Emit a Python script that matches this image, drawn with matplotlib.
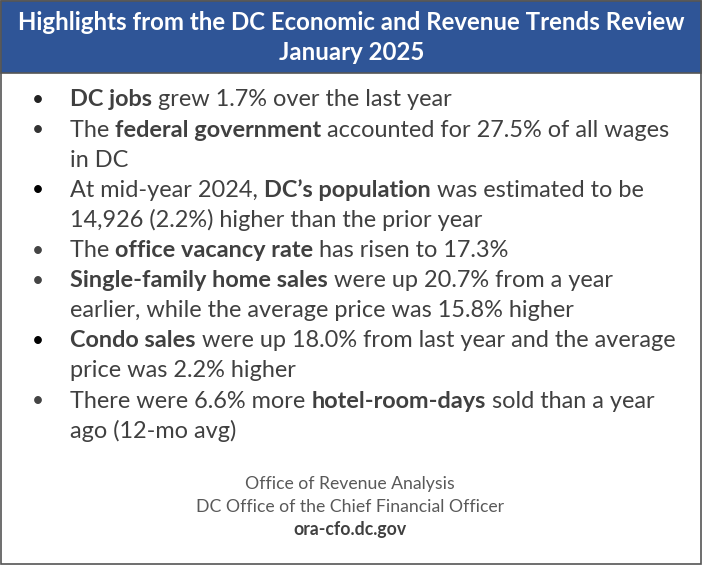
import matplotlib.pyplot as plt
from matplotlib.patches import Rectangle

title_lines = ["Highlights from the DC Economic and Revenue Trends Review", "January 2025"]

# each bullet: list of lines, each line a list of (text, bold) pieces
bullets = [
    [[("DC jobs", True), (" grew 1.7% over the last year", False)]],
    [[("The ", False), ("federal government", True), (" accounted for 27.5% of all wages", False)],
     [("in DC", False)]],
    [[("At mid-year 2024, ", False), ("DC\u2019s population", True), (" was estimated to be", False)],
     [("14,926 (2.2%) higher than the prior year", False)]],
    [[("The ", False), ("office vacancy rate", True), (" has risen to 17.3%", False)]],
    [[("Single-family home sales", True), (" were up 20.7% from a year", False)],
     [("earlier, while the average price was 15.8% higher", False)]],
    [[("Condo sales", True), (" were up 18.0% from last year and the average", False)],
     [("price was 2.2% higher", False)]],
    [[("There were 6.6% more ", False), ("hotel-room-days", True), (" sold than a year", False)],
     [("ago (12-mo avg)", False)]],
]
bullet_colors = ["#222222", "#333333", "#000000", "#444444", "#444444", "#000000", "#444444"]

footer = ["Office of Revenue Analysis", "DC Office of the Chief Financial Officer", "ora-cfo.dc.gov"]

W, H = 703, 566
fig = plt.figure(figsize=(7.03, 5.66), dpi=100)
ax = fig.add_axes([0, 0, 1, 1])
ax.set_xlim(0, W)
ax.set_ylim(H, 0)
ax.axis("off")

font = "Lato"
text_color = "#404040"
fs = 16.9

ax.add_patch(Rectangle((1, 1), W - 3, H - 3, facecolor="white", edgecolor="#555555", lw=1.2))
ax.add_patch(Rectangle((1, 1), W - 3, 72, facecolor="#2F5597", edgecolor="#555555", lw=1.2))
for i, t in enumerate(title_lines):
    ax.text(W / 2, 22 + i * 30, t, color="white", fontsize=17.3, fontweight="bold",
            family=font, ha="center", va="center")

fig.canvas.draw()
renderer = fig.canvas.get_renderer()
inv = ax.transData.inverted()

y = 100
for b, lines in enumerate(bullets):
    ax.text(38, y, "\u2022", color=bullet_colors[b], fontsize=15, family=font, ha="center", va="center")
    for line in lines:
        x = 70
        for txt, bold in line:
            t = ax.text(x, y, txt, color=text_color, fontsize=fs, family=font,
                        fontweight="bold" if bold else "normal", ha="left", va="center")
            bb = t.get_window_extent(renderer)
            x = inv.transform((bb.x1, bb.y0))[0]
        y += 30.1

for i, t in enumerate(footer):
    ax.text(350, 484 + i * 23, t, color="#595959" if i < 2 else "#404040", fontsize=12.7,
            family=font, fontweight="bold" if i == 2 else "normal", ha="center", va="center")

fig.savefig("out.png", dpi=100)
